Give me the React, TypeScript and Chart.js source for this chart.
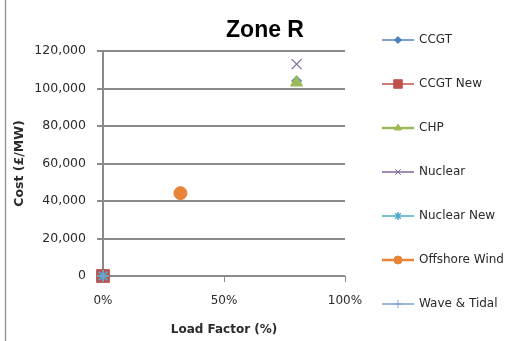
import React, { useEffect, useRef } from "react";
import { Chart, registerables } from "chart.js";

Chart.register(...registerables);

const seriesNames = ["CCGT", "CCGT New", "CHP", "Nuclear", "Nuclear New", "Offshore Wind", "Wave & Tidal"];
const loadFactors = [0.8, 0, 0.8, 0.8, 0, 0.32, 0];
const costs = [104000, 0, 103200, 113000, 0, 44200, 0];
const seriesColors = ["#4F81BD", "#C0504D", "#9BBB59", "#8064A2", "#4BACC6", "#E8843A", "#7F9FCF"];
const pointStyles = ["rectRot", "rect", "triangle", "crossRot", "star", "circle", "cross"];
const pointSizes = [5, 9, 7, 7, 6, 6.5, 6];
const legendPointSizes = [3.5, 6, 4, 4, 4, 4, 4];
const legendLineWidths = [1.5, 1.5, 2.5, 1.5, 1.5, 2.5, 1.5];
const xTicks = [0, 0.5, 1];
const yTicks = [0, 20000, 40000, 60000, 80000, 100000, 120000];
const chartTitle = "Zone R";
const xTitle = "Load Factor (%)";
const yTitle = "Cost (£/MW)";

const FONT = "'DejaVu Sans', sans-serif";
const TEXT = "#2a2a2a";

function drawMarker(ctx: CanvasRenderingContext2D, style: string, r: number, x: number, y: number) {
  ctx.beginPath();
  switch (style) {
    case "rectRot":
      ctx.moveTo(x, y - r); ctx.lineTo(x + r, y); ctx.lineTo(x, y + r); ctx.lineTo(x - r, y); ctx.closePath();
      ctx.fill(); ctx.stroke(); break;
    case "rect": {
      const s = r * Math.SQRT1_2;
      ctx.rect(x - s, y - s, 2 * s, 2 * s); ctx.fill(); ctx.stroke(); break;
    }
    case "triangle":
      ctx.moveTo(x, y - r); ctx.lineTo(x + r * 0.87, y + r * 0.5); ctx.lineTo(x - r * 0.87, y + r * 0.5); ctx.closePath();
      ctx.fill(); ctx.stroke(); break;
    case "crossRot": {
      const s = r * Math.SQRT1_2;
      ctx.moveTo(x - s, y - s); ctx.lineTo(x + s, y + s); ctx.moveTo(x + s, y - s); ctx.lineTo(x - s, y + s); ctx.stroke(); break;
    }
    case "star": {
      const s = r * Math.SQRT1_2;
      ctx.moveTo(x - s, y - s); ctx.lineTo(x + s, y + s); ctx.moveTo(x + s, y - s); ctx.lineTo(x - s, y + s);
      ctx.moveTo(x, y - r); ctx.lineTo(x, y + r); ctx.lineWidth = 1.5; ctx.stroke(); break;
    }
    case "circle":
      ctx.arc(x, y, r, 0, Math.PI * 2); ctx.fill(); ctx.stroke(); break;
    case "cross":
      ctx.moveTo(x, y - r); ctx.lineTo(x, y + r); ctx.moveTo(x - r, y); ctx.lineTo(x + r, y); ctx.stroke(); break;
  }
}

const decorPlugin = {
  id: "decor",
  beforeDraw(chart: any) {
    const ctx = chart.ctx;
    ctx.save();
    ctx.fillStyle = "#ffffff";
    ctx.fillRect(0, 0, chart.width, chart.height);
    ctx.strokeStyle = "#9a9a9a";
    ctx.lineWidth = 1.5;
    ctx.beginPath();
    ctx.moveTo(5.5, 0);
    ctx.lineTo(5.5, chart.height);
    ctx.stroke();
    ctx.restore();
  },
  afterDraw(chart: any) {
    const ctx = chart.ctx;
    ctx.save();
    ctx.fillStyle = "#000";
    ctx.font = `bold 23px 'Liberation Sans', sans-serif`;
    ctx.textAlign = "center";
    ctx.textBaseline = "middle";
    ctx.fillText(chartTitle, 265, 31);
    chart.data.datasets.forEach((ds: any, i: number) => {
      const y = 40 + i * 44;
      ctx.strokeStyle = ds.borderColor;
      ctx.lineWidth = legendLineWidths[i];
      ctx.beginPath();
      ctx.moveTo(382, y);
      ctx.lineTo(414, y);
      ctx.stroke();
      ctx.fillStyle = ds.backgroundColor;
      ctx.strokeStyle = ds.borderColor;
      ctx.lineWidth = 1;
      drawMarker(ctx, pointStyles[i], legendPointSizes[i], 398, y);
      ctx.fillStyle = TEXT;
      ctx.font = `12px ${FONT}`;
      ctx.textAlign = "left";
      ctx.textBaseline = "middle";
      ctx.fillText(ds.label, 419, y);
    });
    ctx.restore();
  },
};

export default function App() {
  const ref = useRef<HTMLCanvasElement>(null);
  useEffect(() => {
    document.body.style.margin = "0";
    const datasets = seriesNames.map((name, i) => ({
      label: name,
      data: [{ x: loadFactors[i], y: costs[i] }],
      borderColor: seriesColors[i],
      backgroundColor: seriesColors[i],
      pointStyle: pointStyles[i],
      pointRadius: pointSizes[i],
      pointHoverRadius: pointSizes[i],
      pointBorderWidth: pointStyles[i] === "crossRot" || pointStyles[i] === "cross" ? 1.2 : pointStyles[i] === "star" ? 1.8 : 1,
      showLine: false,
      clip: false,
      order: -i,
    }));
    const chart = new Chart(ref.current!, {
      type: "scatter",
      data: { datasets },
      plugins: [decorPlugin],
      options: {
        animation: false,
        responsive: false,
        layout: { padding: { left: 0, right: 176, top: 51, bottom: 0 } },
        plugins: { legend: { display: false }, tooltip: { enabled: false }, title: { display: false } },
        scales: {
          x: {
            type: "linear",
            min: 0,
            max: 1,
            afterBuildTicks: (s: any) => { s.ticks = xTicks.map((v) => ({ value: v })); },
            afterFit: (s: any) => { s.height = 65; },
            ticks: {
              callback: (v: any) => Math.round(Number(v) * 100) + "%",
              font: { family: FONT, size: 12 },
              color: TEXT,
              padding: 12,
              maxRotation: 0,
            },
            grid: { drawOnChartArea: false, drawTicks: true, tickLength: 6, color: "#8a8a8a", lineWidth: 1 },
            border: { display: false },
            title: { display: true, text: xTitle, font: { family: FONT, size: 12, weight: "bold" }, color: TEXT, padding: { top: 0, bottom: 4 } },
          },
          y: {
            min: 0,
            max: 120000,
            afterBuildTicks: (s: any) => { s.ticks = yTicks.map((v) => ({ value: v })); },
            afterFit: (s: any) => { s.width = 103; },
            ticks: {
              callback: (v: any) => Number(v).toLocaleString("en-US"),
              font: { family: FONT, size: 12.5 },
              color: TEXT,
              padding: 11,
            },
            grid: { color: "#8a8a8a", lineWidth: 2, tickLength: 6 },
            border: { display: true, color: "#8a8a8a", width: 2 },
            title: { display: true, text: yTitle, font: { family: FONT, size: 12.5, weight: "bold" }, color: TEXT, padding: { top: 12, bottom: 0 } },
          },
        },
      } as any,
    });
    return () => chart.destroy();
  }, []);
  return <canvas ref={ref} width={521} height={341} style={{ display: "block" }} />;
}
